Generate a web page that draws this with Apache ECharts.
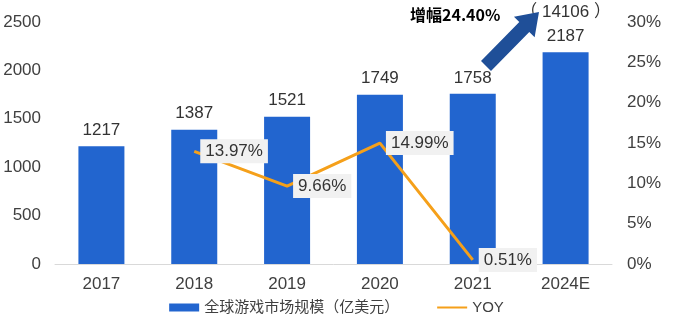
<!DOCTYPE html>
<html><head><meta charset="utf-8">
<script src="https://cdn.jsdelivr.net/npm/echarts@6/dist/echarts.min.js"></script>
<style>html,body{margin:0;padding:0;background:#fff}#c{width:673px;height:322px}</style>
</head><body><div id="c"></div>
<script>
const categories = ['2017','2018','2019','2020','2021','2024E'];
const marketSize = [1217,1387,1521,1749,1758,2187];
const yoy = [null,13.97,9.66,14.99,0.51,null];
const leftTicks = {min:0,max:2500,interval:500};
const rightTicks = {min:0,max:30,interval:5};
const noteText = '增幅24.40%';
const extraLabel = '（ 14106 ）';

const font = '"Liberation Sans", Arial, "Noto Sans CJK SC", sans-serif';
const chart = echarts.init(document.getElementById('c'), null, {renderer:'canvas'});
const tip = [539,12], tail=[486,66];
function arrowPts(){
  const dx=tip[0]-tail[0], dy=tip[1]-tail[1], L=Math.hypot(dx,dy);
  const u=[dx/L,dy/L], n=[-u[1],u[0]];
  const hb=[tip[0]-21*u[0], tip[1]-21*u[1]];
  const p=(c,k)=>[c[0]+k*n[0], c[1]+k*n[1]];
  return [p(tail,7),p(hb,7),p(hb,14.5),tip,p(hb,-14.5),p(hb,-7),p(tail,-7)];
}
chart.setOption({
  animation:false,
  textStyle:{fontFamily:font},
  grid:{left:55,right:61,top:22,bottom:58},
  legend:{bottom:2,left:'center',itemGap:38,itemWidth:30,itemHeight:8,
    textStyle:{fontSize:15,color:'#404040',fontFamily:font},
    data:[{name:'全球游戏市场规模（亿美元）',icon:'rect'},
          {name:'YOY',icon:'path://M0,3 L30,3 L30,5 L0,5 Z M0,0 L0.01,0 L0.01,0.01 Z M0,8 L0.01,8 L0.01,7.99 Z',
           itemStyle:{color:'#f5a01a'}}]},
  xAxis:{type:'category',data:categories,
    axisLine:{lineStyle:{color:'#d9d9d9'}},axisTick:{show:false},
    axisLabel:{fontSize:17,color:'#404040',margin:12}},
  yAxis:[
    {type:'value',min:leftTicks.min,max:leftTicks.max,interval:leftTicks.interval,
     splitLine:{show:false},axisLine:{show:false},axisTick:{show:false},
     axisLabel:{fontSize:17,color:'#404040',margin:14,formatter:v=>String(v)}},
    {type:'value',min:rightTicks.min,max:rightTicks.max,interval:rightTicks.interval,
     splitLine:{show:false},axisLine:{show:false},axisTick:{show:false},
     axisLabel:{fontSize:17,color:'#404040',margin:15,formatter:'{value}%'}}
  ],
  series:[
    {name:'全球游戏市场规模（亿美元）',type:'bar',data:marketSize,barWidth:46,
     itemStyle:{color:'#2265cf'},
     label:{show:true,position:'top',distance:4,fontSize:17,color:'#333',lineHeight:24,
       formatter:p=>p.dataIndex===categories.length-1?extraLabel+'\n'+p.value:p.value}},
    {name:'YOY',type:'line',yAxisIndex:1,data:yoy,showSymbol:true,symbol:'circle',symbolSize:0.01,
     lineStyle:{color:'#f5a01a',width:3},itemStyle:{color:'#f5a01a'},
     label:{show:true,position:'right',distance:6,fontSize:17,color:'#333',
       backgroundColor:'#f1f1f1',padding:[4,5,3,5],formatter:p=>p.value.toFixed(2)+'%'},
     z:5}
  ],
  graphic:[
    {type:'polygon',shape:{points:arrowPts()},style:{fill:'#1f4f98'},z:10},
    {type:'text',left:410,top:7,style:{text:noteText,fontSize:16,fontWeight:'bold',fill:'#000',
      fontFamily:'"Noto Sans CJK SC", sans-serif'},z:10}
  ]
});
</script></body></html>
